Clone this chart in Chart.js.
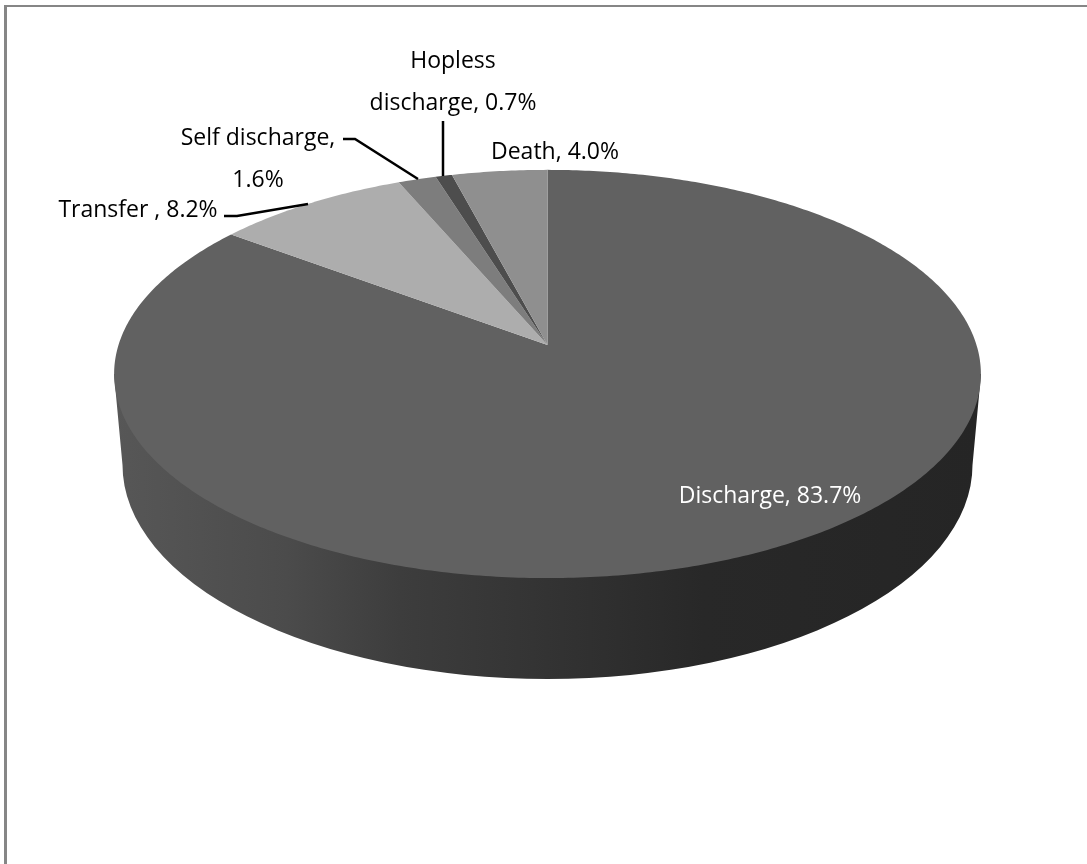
<!DOCTYPE html>
<html>
<head>
<meta charset="utf-8">
<title>Discharge outcome</title>
<script src="https://cdn.jsdelivr.net/npm/chart.js@4/dist/chart.umd.min.js"></script>
<style>
    html, body { margin: 0; padding: 0; background: #fff; overflow: hidden; }
    #wrap { position: relative; width: 1087px; height: 864px; }
    #frame { position: absolute; left: 4px; top: 5px; width: 1087px; height: 864px; border: 2px solid #868686; border-width: 2px 0 0 3px; }
    #chart { position: absolute; left: 0; top: 0; }
</style>
</head>
<body>
<div id="wrap">
    <div id="frame"></div>
    <canvas id="chart" width="1087" height="864"></canvas>
</div>
<script>
// values as printed on the chart (they add up to 98.2, the pie normalises them)
const categories = ['Discharge', 'Transfer ', 'Self discharge', 'Hopless discharge', 'Death'];
const percents = [83.7, 8.2, 1.6, 0.7, 4.0];
const sliceColors = ['#616161', '#adadad', '#7d7d7d', '#4d4d4d', '#8f8f8f'];

// label lines, split where the original wraps
const labelLines = [
    ['Discharge, 83.7%'],
    ['Transfer , 8.2%'],
    ['Self discharge,', '1.6%'],
    ['Hopless', 'discharge, 0.7%'],
    ['Death, 4.0%']
];
const labelAnchors = [
    { x: 770, y: 496, color: '#fff' },
    { x: 138, y: 210, color: '#000' },
    { x: 258, y: 138, color: '#000' },
    { x: 453, y: 61, color: '#000' },
    { x: 555, y: 152, color: '#000' }
];
const leaderLines = [
    null,
    [[224, 216], [237, 216], [308, 204]],
    [[343, 139], [355, 139], [418, 179]],
    [[443, 121], [443, 176]],
    null
];

// view geometry: top disc with perspective, bottom rim as a plain ellipse
const view = { cx: 547.5, cy: 345, sx: 429, sy: 200, p: 0.142 };
const rim = { rx: 425, cy: 465, ry: 214 };

function project(angle) {
    // angle from Chart.js: -PI/2 is 12 o'clock, going clockwise
    const X = Math.cos(angle);
    const Y = Math.sin(angle);
    const w = 1 - view.p * Y;
    return { x: view.cx + view.sx * X / w, y: view.cy + view.sy * Y / w };
}

const pie3d = {
    id: 'pie3d',
    // the arcs keep the angles computed by Chart.js, only the projection is ours
    beforeDatasetsDraw(chart) {
        const ctx = chart.ctx;
        const arcs = chart.getDatasetMeta(0).data;

        // side wall, front half only. the top face paints over its upper edge
        ctx.beginPath();
        ctx.moveTo(114, 374);
        ctx.lineTo(981, 374);
        ctx.ellipse(view.cx, rim.cy, rim.rx, rim.ry, 0, 0, Math.PI);
        ctx.closePath();
        const wall = ctx.createLinearGradient(114, 0, 981, 0);
        wall.addColorStop(0, '#575757');
        wall.addColorStop(0.2, '#4b4b4b');
        wall.addColorStop(0.33, '#3d3d3d');
        wall.addColorStop(0.5, '#333333');
        wall.addColorStop(0.68, '#282828');
        wall.addColorStop(1, '#252525');
        ctx.fillStyle = wall;
        ctx.fill();

        // top face
        arcs.forEach((arc, i) => {
            const n = Math.max(8, Math.ceil((arc.endAngle - arc.startAngle) * 90));
            ctx.beginPath();
            ctx.moveTo(view.cx, view.cy);
            for (let k = 0; k <= n; k++) {
                const p = project(arc.startAngle + (arc.endAngle - arc.startAngle) * k / n);
                ctx.lineTo(p.x, p.y);
            }
            ctx.closePath();
            ctx.fillStyle = sliceColors[i];
            ctx.fill();
        });
        return false;
    },
    afterDraw(chart) {
        const ctx = chart.ctx;
        ctx.save();
        ctx.strokeStyle = '#000';
        ctx.lineWidth = 2.5;
        leaderLines.forEach(line => {
            if (!line) return;
            ctx.beginPath();
            line.forEach((pt, i) => i ? ctx.lineTo(pt[0], pt[1]) : ctx.moveTo(pt[0], pt[1]));
            ctx.stroke();
        });
        ctx.font = '23px "Open Sans", "Noto Sans", sans-serif';
        ctx.textAlign = 'center';
        ctx.textBaseline = 'middle';
        labelLines.forEach((lines, i) => {
            ctx.fillStyle = labelAnchors[i].color;
            lines.forEach((text, k) => {
                ctx.fillText(text, labelAnchors[i].x, labelAnchors[i].y + k * 42);
            });
        });
        ctx.restore();
    }
};

new Chart(document.getElementById('chart'), {
    type: 'pie',
    data: {
        labels: categories,
        datasets: [{ data: percents, backgroundColor: sliceColors, borderWidth: 0 }]
    },
    options: {
        responsive: false,
        animation: false,
        plugins: { legend: { display: false }, tooltip: { enabled: false } }
    },
    plugins: [pie3d]
});
</script>
</body>
</html>
